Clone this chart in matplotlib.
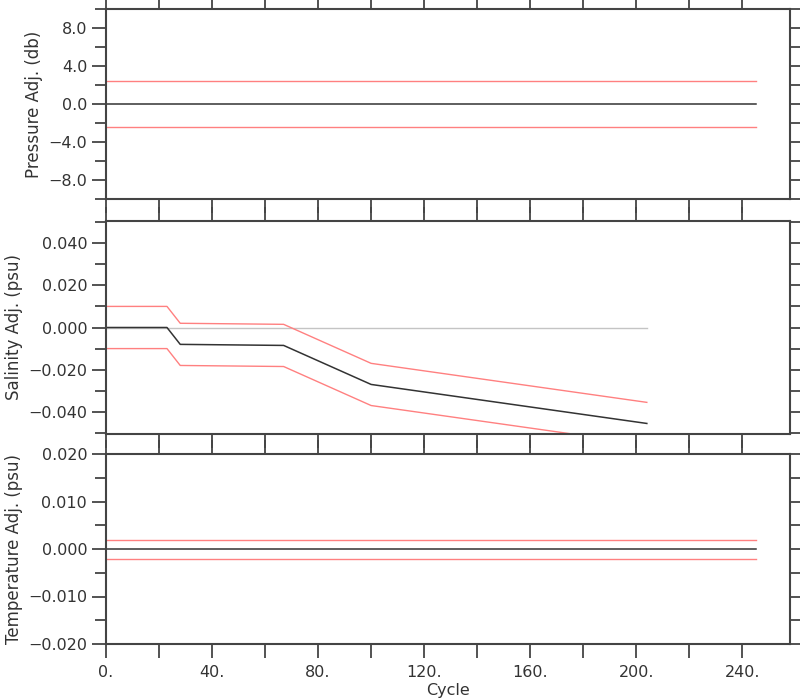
import numpy as np
import matplotlib
matplotlib.use("Agg")
import matplotlib.pyplot as plt
from matplotlib.ticker import MultipleLocator, FixedLocator, FixedFormatter

# --- data ---
press_cycle = [0, 245]
press_adj = [0.0, 0.0]
press_err = [2.4, 2.4]

sal_cycle = [0, 23, 28, 67, 100, 204]
sal_adj = [0.0, 0.0, -0.008, -0.0085, -0.027, -0.0455]
sal_err = [0.01, 0.01, 0.01, 0.01, 0.01, 0.01]
sal_zero_cycle = [0, 204]

temp_cycle = [0, 245]
temp_adj = [0.0, 0.0]
temp_err = [0.002, 0.002]

x_ticks = [0, 40, 80, 120, 160, 200, 240]
x_labels = ["0.", "40.", "80.", "120.", "160.", "200.", "240."]

press_ticks = [-8, -4, 0, 4, 8]
press_labels = ["\u22128.0", "\u22124.0", "0.0", "4.0", "8.0"]
sal_ticks = [-0.04, -0.02, 0.0, 0.02, 0.04]
sal_labels = ["\u22120.040", "\u22120.020", "0.000", "0.020", "0.040"]
temp_ticks = [-0.02, -0.01, 0.0, 0.01, 0.02]
temp_labels = ["\u22120.020", "\u22120.010", "0.000", "0.010", "0.020"]

TXT = "#333333"
AX = "#444444"
RED = "#ff8080"
BLK = "#333333"
FS = 11.5

plt.rcParams['font.family'] = ['DejaVu Sans']
plt.rcParams['font.size'] = FS

fig = plt.figure(figsize=(8, 7), dpi=100)
left, width = 106 / 800, 684 / 800
ax1 = fig.add_axes([left, 1 - 199 / 700, width, 190 / 700])
ax2 = fig.add_axes([left, 1 - 434 / 700, width, 213 / 700])
ax3 = fig.add_axes([left, 1 - 644 / 700, width, 190 / 700])


def style(ax, yticks, ylabels, yminor, ylim, ylabel, show_x):
    ax.set_xlim(0, 258)
    ax.set_ylim(*ylim)
    for s in ax.spines.values():
        s.set_color(AX)
        s.set_linewidth(1.5)
    ax.xaxis.set_major_locator(MultipleLocator(20))
    ax.xaxis.set_major_formatter(FixedFormatter([""] * 20))
    ax.yaxis.set_major_locator(FixedLocator(yticks))
    ax.yaxis.set_major_formatter(FixedFormatter(ylabels))
    ax.yaxis.set_minor_locator(MultipleLocator(yminor))
    ax.tick_params(axis='x', which='major', direction='out', length=10, width=1.3,
                   color=AX, top=True, bottom=True, labelbottom=False)
    ax.tick_params(axis='y', which='both', direction='out', length=10, width=1.3,
                   color=AX, left=True, right=True, labelcolor=TXT, labelsize=FS)
    ax.tick_params(axis='y', which='minor', length=8)
    ax.set_ylabel(ylabel, color=TXT, fontsize=12, labelpad=4)
    if show_x:
        ax.xaxis.set_major_locator(FixedLocator(np.arange(0, 260, 20)))
        ax.xaxis.set_major_formatter(FixedFormatter(
            [x_labels[i // 2] if i % 2 == 0 else "" for i in range(13)]))
        ax.tick_params(axis='x', labelbottom=True, labelcolor=TXT, labelsize=FS, pad=5)
        ax.set_xlabel("Cycle", color=TXT, fontsize=FS, labelpad=2)


# pressure
pc = np.array(press_cycle)
pa = np.array(press_adj)
pe = np.array(press_err)
ax1.plot(pc, pa + pe, color=RED, lw=1)
ax1.plot(pc, pa - pe, color=RED, lw=1)
ax1.plot(pc, pa, color=BLK, lw=1.1)
style(ax1, press_ticks, press_labels, 2, (-10, 10), "Pressure Adj. (db)", False)

# salinity
sc = np.array(sal_cycle)
sa = np.array(sal_adj)
se = np.array(sal_err)
ax2.plot(sal_zero_cycle, [0, 0], color="#c4c4c4", lw=1)
ax2.plot(sc, sa + se, color=RED, lw=1)
ax2.plot(sc, sa - se, color=RED, lw=1)
ax2.plot(sc, sa, color=BLK, lw=1.1)
style(ax2, sal_ticks, sal_labels, 0.01, (-0.0505, 0.0505), "Salinity Adj. (psu)", False)

# temperature
tc = np.array(temp_cycle)
ta = np.array(temp_adj)
te = np.array(temp_err)
ax3.plot(tc, ta + te, color=RED, lw=1)
ax3.plot(tc, ta - te, color=RED, lw=1)
ax3.plot(tc, ta, color=BLK, lw=1.1)
style(ax3, temp_ticks, temp_labels, 0.005, (-0.02, 0.02), "Temperature Adj. (psu)", True)

fig.savefig("out.png", dpi=100)
